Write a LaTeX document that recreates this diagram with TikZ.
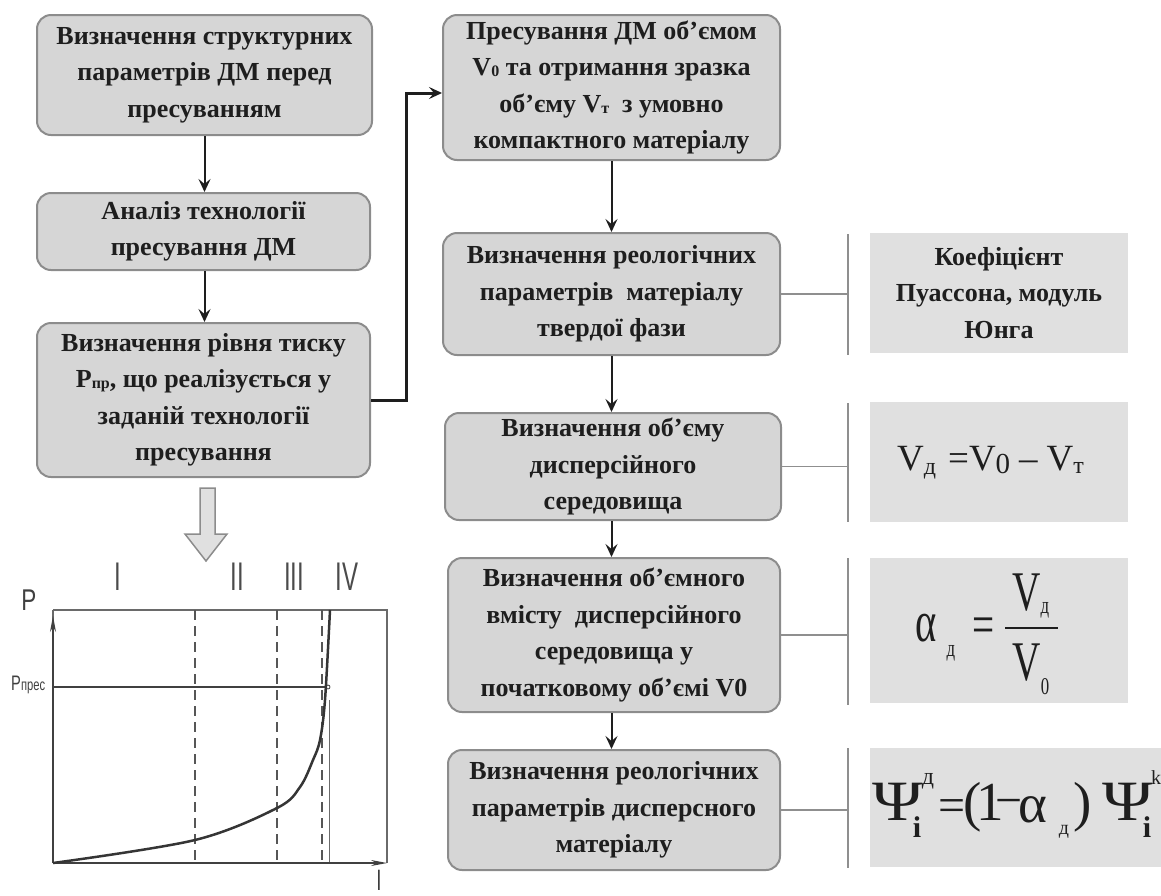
\documentclass[tikz,border=0pt]{standalone}
\usepackage{fontspec}
\usepackage{graphicx}
\setmainfont{Liberation Serif}
\setsansfont{Liberation Sans}
\usetikzlibrary{arrows.meta,calc}
\definecolor{boxfill}{HTML}{D6D6D6}
\definecolor{boxline}{HTML}{8C8C8C}
\definecolor{sidefill}{HTML}{E0E0E0}
\definecolor{ink}{HTML}{1E1E1E}
\definecolor{brk}{HTML}{8F8F8F}
\definecolor{grline}{HTML}{6A6A6A}
\newcommand\sbt[1]{\raisebox{-1pt}{\fontsize{16}{16}\selectfont #1}}
\newcommand\fs[1]{\fontsize{#1}{#1}\selectfont}
\newcommand\sq[1]{\scalebox{0.7}[1]{#1}}
\newcommand\nr[1]{\scalebox{0.6}[1]{#1}}
\newcommand\widePsi[1]{\scalebox{1.2}[1]{#1}}
\begin{document}
\begin{tikzpicture}[x=1pt,y=-1pt,
  flowbox/.style={draw=boxline, line width=2pt, fill=boxfill, rounded corners=14pt,
    align=center, inner sep=0pt, text=ink, font=\bfseries\fontsize{26}{36.5}\selectfont},
  sidebox/.style={fill=sidefill, inner sep=0pt, align=center, text=ink,
    font=\bfseries\fontsize{26}{36.5}\selectfont},
  flowarrow/.style={draw=ink, line width=2pt, -{Stealth[length=13pt,width=12pt,inset=5pt]}},
  brkline/.style={draw=brk, line width=1.5pt},
  fml/.style={inner sep=0pt, text=ink, anchor=base},
  roman/.style={inner sep=0pt, text=ink!80, font=\sffamily\fs{40}},
  axis/.style={draw=ink!85, line width=1.3pt, -{Stealth[length=16pt,width=6pt]}},
  frameline/.style={draw=grline, line width=1.1pt},
  dashline/.style={draw=ink!75, line width=1.1pt, dash pattern=on 10pt off 6pt},
]
\useasboundingbox (0,0) rectangle (1161,895);

% left column
\node[flowbox, minimum width=335pt, minimum height=120pt] (L1) at (204.5,75)
  {Визначення структурних\\параметрів ДМ перед\\пресуванням};
\node[flowbox, minimum width=333pt, minimum height=77pt] (L2) at (203.5,231.5)
  {Аналіз технології\\пресування ДМ};
\node[flowbox, minimum width=333pt, minimum height=154pt] (L3) at (203.5,400)
  {Визначення рівня тиску\\P\sbt{пр}, що реалізується у\\заданій технології\\пресування};

% right column
\node[flowbox, minimum width=337pt, minimum height=145pt] (R1) at (611.5,87.5)
  {Пресування ДМ об’ємом\\V\sbt{0} та отримання зразка\\об’єму V\sbt{т}\ \ з умовно\\компактного матеріалу};
\node[flowbox, minimum width=337pt, minimum height=122pt] (R2) at (611.5,294)
  {Визначення реологічних\\параметрів\ \ матеріалу\\твердої фази};
\node[flowbox, minimum width=336pt, minimum height=107pt] (R3) at (613,466.5)
  {Визначення об’єму\\дисперсійного\\середовища};
\node[flowbox, minimum width=332pt, minimum height=154pt] (R4) at (614,635)
  {Визначення об’ємного\\вмісту\ \ дисперсійного\\середовища у\\початковому об’ємі V0};
\node[flowbox, minimum width=332pt, minimum height=120pt] (R5) at (614,810)
  {Визначення реологічних\\параметрів дисперсного\\матеріалу};

% arrows
\draw[flowarrow] (L1.south) -- (L1.south |- L2.north);
\draw[flowarrow] (L1.south |- L2.south) -- (L1.south |- L3.north);
\coordinate (jn) at (406,93);
\draw[flowarrow, line width=3pt] (L3.east) -| (jn) -- (R1.west |- jn);
\draw[flowarrow] (R1.south) -- (R1.south |- R2.north);
\draw[flowarrow] (R1.south |- R2.south) -- (R1.south |- R3.north);
\draw[flowarrow] (R1.south |- R3.south) -- (R1.south |- R4.north);
\draw[flowarrow] (R1.south |- R4.south) -- (R1.south |- R5.north);

% side boxes
\node[sidebox, minimum width=258pt, minimum height=120pt] (B1) at (999,293)
  {Коефіцієнт\\Пуассона, модуль\\Юнга};
\node[sidebox, minimum width=258pt, minimum height=120pt] (B2) at (999,462) {};
\node[sidebox, minimum width=258pt, minimum height=145pt] (B3) at (999,630.5) {};

% brackets
\coordinate (k1t) at (848,234); \coordinate (k1b) at (848,355);
\coordinate (k2t) at (848,403); \coordinate (k2b) at (848,522);
\coordinate (k3t) at (848,558); \coordinate (k3b) at (848,705);
\coordinate (k4t) at (848,748); \coordinate (k4b) at (848,868);
\draw[brkline] (k1t) -- (k1b);
\draw[brkline] (k2t) -- (k2b);
\draw[brkline] (k3t) -- (k3b);
\draw[brkline] (k4t) -- (k4b);
\draw[brkline] (R2.east) -- (R2.east -| k1t);
\draw[brkline] (R3.east) -- (R3.east -| k2t);
\draw[brkline] (R4.east) -- (R4.east -| k3t);
\draw[brkline] (R5.east) -- (R5.east -| k4t);

% formula B2
\node[fml, anchor=base west] (f2) at (897,470)
  {\fs{37}V\raisebox{-4pt}{\fs{24}д}\hspace{12pt}=V\raisebox{-3pt}{\fs{29}0}\hspace{9pt}–\hspace{9pt}V\raisebox{-3pt}{\fs{24}т}};

% formula B3
\node[fml] (a1) at (926,641) {\sq{\fs{58}α}};
\node[fml] (a2) at (951,656) {\sq{\fs{24}д}};
\node[fml] (a3) at (984,643) {\sq{\fs{56}=}};
\node[fml] (a4) at (1027,610) {\sq{\fs{56}V}};
\node[fml] (a5) at (1045,613) {\sq{\fs{24}д}};
\coordinate (fb1) at (1005,628); \coordinate (fb2) at (1058,628);
\draw[draw=ink, line width=2pt] (fb1) -- (fb2);
\node[fml] (a6) at (1027,680) {\sq{\fs{56}V}};
\node[fml] (a7) at (1045,694) {\sq{\fs{24}0}};

% formula B4 (cut at the right edge)
\begin{scope}
\clip (0,0) rectangle (1161,895);
\node[sidebox, minimum width=300pt, minimum height=119pt] (B4) at (1020,807.5) {};
\node[fml] (p1) at (898,820) {\widePsi{\fs{57}Ψ}};
\node[fml] (p2) at (928,784) {\fs{24}д};
\node[fml] (p3) at (917,837) {\fs{30}\bfseries i};
\node[fml] (p4) at (952,821) {\fs{48}=};
\node[fml] (p5) at (973,820) {\fs{55}(};
\node[fml] (p6) at (990,820) {\fs{55}1};
\node[fml] (p7) at (1009,816) {\fs{48}−};
\node[fml] (p8) at (1033,822) {\fs{55}α};
\node[fml] (p9) at (1064,834) {\fs{20}д};
\node[fml] (p10) at (1083,820) {\fs{55})};
\node[fml] (p11) at (1128,820) {\widePsi{\fs{57}Ψ}};
\node[fml] (p12) at (1147,837) {\fs{30}\bfseries i};
\node[fml] (p13) at (1156,784) {\fs{20}k};
\end{scope}
\node[fml, font=\sffamily\fs{28}] (lab) at (379,890) {\nr{l}};

% hollow arrow
\draw[draw=boxline, fill=sidefill, line width=1.5pt]
  (200,488) -- (215,488) -- (215,534) -- (227,534) -- (206,561) -- (185,534) -- (200,534) -- cycle;

% graph
\node[roman] (rI) at (118,577) {\nr{I}};
\node[roman] (rII) at (237,577) {\nr{II}};
\node[roman] (rIII) at (294,577) {\nr{III}};
\node[roman] (rIV) at (347,577) {\nr{IV}};
\node[inner sep=0pt, text=ink!85, font=\sffamily\fs{30}] (lp) at (29,600) {\scalebox{0.75}[1]{P}};
\node[inner sep=0pt, text=ink!85, anchor=base west] (lpp) at (11,690)
  {\scalebox{0.7}[1]{\sffamily\fs{21}P\fs{16}прес}};

\coordinate (o) at (53,863);
\coordinate (ytop) at (53,616);
\coordinate (xend) at (387,863);
\draw[frameline] (53,610) -- (387,610) -- (387,863);
\draw[frameline] (53,610) -- (o);
\draw[dashline] (195,610) -- (195,863);
\draw[dashline] (277,610) -- (277,863);
\draw[dashline] (322,610) -- (322,863);
\draw[frameline, line width=0.9pt] (329,700) -- (329,863);
\coordinate (pp) at (328,687);
\draw[frameline, draw=ink!85, line width=1.3pt] (53,687) -- (pp);
\draw[draw=ink!85, line width=0.8pt, fill=white] (pp) circle (2pt);
\draw[axis] (o) -- (ytop);
\draw[axis] (o) -- (xend);
\draw[draw=ink!90, line width=2.5pt] plot[smooth, tension=0.55] coordinates
  {(53,863) (195,840) (277,808) (300,787) (313,760) (320,740) (325,700) (330,610)};
\end{tikzpicture}
\end{document}
